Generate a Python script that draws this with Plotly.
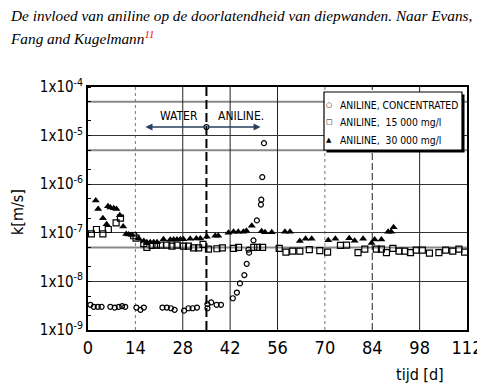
import math
import plotly.graph_objects as go

# ---- data ----
conc_days = [0.7, 1.7, 2.9, 4.0, 6.6, 7.9, 9.1, 10.1, 11.0, 14.3, 15.5, 16.5, 22.0, 23.3, 24.5, 25.6,
             28.4, 29.7, 30.9, 32.2, 35.3, 35.3, 36.4, 38.0, 39.3, 42.8, 44.0, 44.9, 46.2, 46.9, 47.4,
             47.6, 48.9, 49.9, 51.1, 51.2, 51.5, 52.0]
conc_k = [3.3e-9, 3.0e-9, 3.0e-9, 3.0e-9, 3.0e-9, 2.9e-9, 3.0e-9, 3.1e-9, 3.0e-9, 2.9e-9, 2.6e-9, 2.9e-9,
          2.9e-9, 2.9e-9, 2.8e-9, 2.6e-9, 2.5e-9, 2.8e-9, 2.8e-9, 2.9e-9, 3.4e-9, 2.8e-9, 3.7e-9, 3.3e-9,
          3.3e-9, 4.5e-9, 5.9e-9, 9.1e-9, 1.35e-8, 2.3e-8, 4.5e-8, 3.9e-8, 7.0e-8, 1.8e-7, 3.8e-7, 4.8e-7,
          1.4e-6, 7.0e-6]

s15_days = [1.0, 2.5, 4.4, 6.0, 8.3, 9.6, 13.5, 14.2, 16.5, 17.4, 18.9, 20.2, 21.4, 23.3, 24.8, 26.3,
            28.2, 29.7, 31.2, 32.7, 34.0, 35.6, 38.1, 39.7, 43.0, 44.5, 49.0, 50.1, 51.6, 56.5, 58.5,
            60.5, 62.6, 65.4, 68.5, 70.8, 74.6, 76.4, 79.8, 81.8, 85.2, 86.7, 88.2, 90.1, 91.9, 93.6,
            95.3, 97.0, 98.8, 100.9, 103.7, 105.7, 107.8, 109.6, 111.3]
s15_k = [9.5e-8, 1.17e-7, 9.5e-8, 1.17e-7, 1.6e-7, 2.0e-7, 8.7e-8, 7.8e-8, 6.0e-8, 5.0e-8, 5.5e-8, 5.6e-8,
         5.6e-8, 5.6e-8, 5.3e-8, 5.6e-8, 5.3e-8, 5.3e-8, 4.9e-8, 4.9e-8, 5.8e-8, 4.6e-8, 4.7e-8, 4.9e-8,
         4.8e-8, 5.0e-8, 5.0e-8, 5.0e-8, 5.0e-8, 4.8e-8, 4.0e-8, 4.2e-8, 4.2e-8, 4.5e-8, 4.3e-8, 4.0e-8,
         5.5e-8, 5.6e-8, 3.9e-8, 4.6e-8, 4.6e-8, 4.6e-8, 3.9e-8, 4.8e-8, 4.2e-8, 4.2e-8, 3.9e-8, 4.4e-8,
         4.4e-8, 3.8e-8, 3.9e-8, 4.4e-8, 4.2e-8, 4.6e-8, 4.0e-8]

s30_days = [2.3, 3.0, 4.4, 5.5, 5.9, 6.6, 7.6, 8.4, 9.4, 10.4, 11.3, 12.0, 13.0, 15.0, 16.5, 17.4, 18.4,
            19.4, 20.4, 22.3, 24.3, 25.3, 26.3, 27.3, 28.2, 30.2, 32.0, 33.2, 35.1, 37.6, 38.5, 41.5,
            43.0, 44.4, 45.9, 46.8, 48.4, 51.3, 52.3, 54.3, 58.2, 59.7, 62.6, 64.3, 66.1, 71.0, 73.1,
            77.2, 78.8, 81.3, 83.8, 84.7, 86.7, 88.7, 89.6, 90.3]
s30_k = [4.6e-7, 3.1e-7, 2.0e-7, 1.5e-7, 3.5e-7, 3.3e-7, 3.2e-7, 3.1e-7, 2.3e-7, 1.35e-7, 9.5e-8, 9.2e-8,
         9.0e-8, 7.6e-8, 6.8e-8, 6.4e-8, 6.4e-8, 6.4e-8, 6.4e-8, 7.4e-8, 7.2e-8, 7.3e-8, 7.3e-8, 7.4e-8,
         7.4e-8, 7.5e-8, 7.6e-8, 7.6e-8, 8.3e-8, 8.7e-8, 8.7e-8, 1.0e-7, 1.05e-7, 1.05e-7, 1.05e-7,
         1.1e-7, 1.4e-7, 1.07e-7, 1.03e-7, 1.03e-7, 1.05e-7, 1.05e-7, 6.8e-8, 7.5e-8, 7.5e-8, 7.0e-8,
         7.5e-8, 7.7e-8, 6.9e-8, 7.5e-8, 6.2e-8, 7.3e-8, 7.3e-8, 1.05e-7, 1.05e-7, 1.3e-7]

series_names = ["ANILINE, CONCENTRATED", "ANILINE,  15 000 mg/l", "ANILINE,  30 000 mg/l"]
legend_symbols = ["\u25CB", "\u25A1", "\u25B2"]
x_ticks = [0, 14, 28, 42, 56, 70, 84, 98, 112]
y_exps = [-9, -8, -7, -6, -5, -4]
y_tickvals = [10.0 ** e for e in y_exps]
y_ticktext = ["1x10<sup>%d</sup>" % e for e in y_exps]
half_lines = [5e-8, 5e-6, 5e-5]
vgrid_days = [14, 28, 42, 56, 70, 84, 98]
vgrid_dash = ["dot", "solid", "solid", "solid", "dot", "7px,3px", "solid"]
switch_day = 35
arrow_k = 1.5e-5
water_end = 17
aniline_end = 51

FONT = "Liberation Sans Narrow, DejaVu Sans Condensed, Arial Narrow, sans-serif"

# the page body has an 8px margin: work in window pixels and shift into the figure
OFF = 8
W, H = 485 - OFF, 392 - OFF
Lw, Rw, Tw, Bw = 88, 467, 87, 330          # plot area in window pixels
L, R, T, B = Lw - OFF, Rw - OFF, Tw - OFF, Bw - OFF


def px(xw):
    return (xw - OFF - L) / (R - L)


def py(yw):
    return (B - (yw - OFF)) / (B - T)


def label(x, y, text, size, xa="center", ya="middle", family=FONT, **kw):
    return dict(x=px(x), y=py(y), xref="paper", yref="paper", xanchor=xa, yanchor=ya,
                text=text, showarrow=False, font=dict(family=family, size=size, color="black"), **kw)


fig = go.Figure()
fig.add_trace(go.Scatter(x=conc_days, y=conc_k, mode="markers", name=series_names[0], showlegend=False,
                         marker=dict(symbol="circle-open", size=5, color="black", line=dict(width=1.2))))
fig.add_trace(go.Scatter(x=s15_days, y=s15_k, mode="markers", name=series_names[1], showlegend=False,
                         marker=dict(symbol="square-open", size=6, color="black", line=dict(width=1.2))))
fig.add_trace(go.Scatter(x=s30_days, y=s30_k, mode="markers", name=series_names[2], showlegend=False,
                         marker=dict(symbol="triangle-up", size=7, color="black")))
fig.add_trace(go.Scatter(x=[switch_day], y=[arrow_k], mode="markers", showlegend=False,
                         marker=dict(symbol="circle", size=5, color="white",
                                     line=dict(width=1.2, color="black"))))

shapes = []
for yv in half_lines:
    shapes.append(dict(type="line", xref="paper", x0=0, x1=1, yref="y", y0=yv, y1=yv,
                       line=dict(color="#8a8a8a", width=2), layer="below"))
for d, ds in zip(vgrid_days, vgrid_dash):
    shapes.append(dict(type="line", xref="x", x0=d, x1=d, yref="paper", y0=0, y1=1,
                       line=dict(color="#222" if ds != "dot" else "#777", width=1, dash=ds),
                       layer="below"))
shapes.append(dict(type="line", xref="x", x0=switch_day, x1=switch_day, yref="paper", y0=0, y1=1,
                   line=dict(color="black", width=2, dash="9px,4px")))
# legend box with shadow
bx0, bx1, by0, by1 = 324, 462, 92, 150
shapes.append(dict(type="rect", xref="paper", yref="paper", x0=px(bx0 + 2.5), x1=px(bx1 + 2.5),
                   y0=py(by1 + 2.5), y1=py(by0 + 2.5), fillcolor="black", line=dict(width=0)))
shapes.append(dict(type="rect", xref="paper", yref="paper", x0=px(bx0), x1=px(bx1),
                   y0=py(by1), y1=py(by0), fillcolor="white", line=dict(color="black", width=1.2)))

ann = []
for end in (water_end, aniline_end):
    ann.append(dict(x=end, y=math.log10(arrow_k), ax=switch_day, ay=math.log10(arrow_k),
                    xref="x", yref="y", axref="x", ayref="y", showarrow=True, arrowhead=2,
                    arrowsize=1, arrowwidth=1.4, text=""))
ann.append(label(179, 116, "WATER", 12))
ann.append(label(216, 116, "ANILINE.", 12, xa="left"))
# legend entries
for i, (sym, name) in enumerate(zip(legend_symbols, series_names)):
    yy = 105 + i * 17.5
    ann.append(label(329, yy, sym, 7, family="DejaVu Sans"))
    ann.append(label(338, yy, name.replace(" ", "&nbsp;"), 10.3, xa="left"))
ann.append(label(17, 212, "k[m/s]", 16, textangle=-90))
ann.append(label(420, 374, "tijd [d]", 16))
ann.append(label(8, 15, "<i>De invloed van aniline op de doorlatendheid van diepwanden. Naar Evans,</i>",
                 15.3, xa="left", family="Liberation Serif, serif"))
ann.append(label(8, 37, '<i>Fang and Kugelmann<sup><span style="color:red">11</span></sup></i>',
                 15.3, xa="left", family="Liberation Serif, serif"))

fig.update_layout(
    width=W, height=H, autosize=False,
    margin=dict(l=L, r=W - R, t=T, b=H - B),
    paper_bgcolor="white", plot_bgcolor="white",
    shapes=shapes, annotations=ann,
    showlegend=False,
    xaxis=dict(range=[0, 112], tickvals=x_ticks, showgrid=False, zeroline=False, automargin=False,
               showline=True, linecolor="black", linewidth=2, mirror=True, ticks="",
               tickfont=dict(family=FONT, size=18, color="black")),
    yaxis=dict(type="log", range=[-9, -4], tickvals=y_tickvals, ticktext=y_ticktext, automargin=False,
               showgrid=True, gridcolor="#333", gridwidth=1, zeroline=False,
               showline=True, linecolor="black", linewidth=2, mirror=True, ticks="",
               tickfont=dict(family=FONT, size=15, color="black"),
               minor=dict(ticks="inside", ticklen=3, tickcolor="black", showgrid=False)),
)

fig.write_html("out.html")
